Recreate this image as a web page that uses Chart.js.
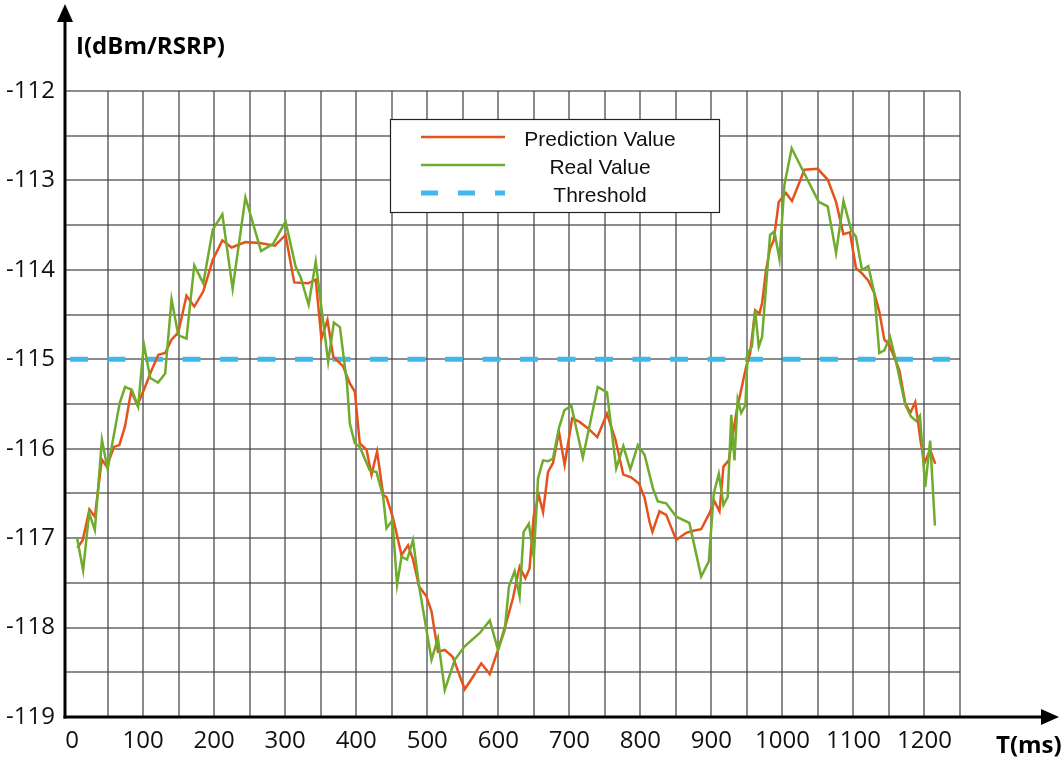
<!DOCTYPE html>
<html><head><meta charset="utf-8">
<script src="https://cdn.jsdelivr.net/npm/chart.js@4/dist/chart.umd.min.js"></script>
<style>html,body{margin:0;padding:0;background:#fff;}#wrap{width:1062px;height:764px;position:relative;}</style>
</head><body><div id="wrap"><canvas id="c" width="1062" height="764"></canvas></div>
<script>
// ---- data ----
const predT = [7.5,15,24.4,32,41.8,48.8,59,66.5,74.5,83,92,102.7,112,121.4,131,140,149.5,161,172,184.7,198,211.5,224.6,244,264.4,285.5,300.5,312.7,332.4,343,351,359.5,367.6,381.6,391,398,405,414.5,421.5,429.4,438,442.6,452,463.7,473,480,488.5,498.8,506,515,524.6,536,552.7,564.4,576,588,599.6,611,620.7,630,638,644,649.7,657,663,670,677,685.4,693.4,704,714.5,726,739.4,753,765,776,787,798,806,813,817,826.9,836.4,850.5,864.6,873,885.6,897.3,904.4,911.4,917,924.5,935.7,949,954.6,961.6,967.6,971.4,977,982.6,987.8,994.8,1005,1013.5,1031,1049.7,1063.7,1075.5,1085.8,1095,1103.6,1112,1121,1129.4,1136.4,1143.5,1150.5,1164.6,1173,1180,1187,1195,1200,1208,1215.2];
const predV = [-117.11,-117.02,-116.68,-116.76,-116.12,-116.20,-115.98,-115.96,-115.75,-115.36,-115.51,-115.31,-115.12,-114.95,-114.93,-114.78,-114.70,-114.29,-114.41,-114.24,-113.89,-113.67,-113.75,-113.69,-113.70,-113.73,-113.61,-114.14,-114.15,-114.11,-114.77,-114.56,-114.97,-115.08,-115.27,-115.36,-115.94,-116.01,-116.29,-116.03,-116.52,-116.54,-116.78,-117.19,-117.08,-117.24,-117.54,-117.65,-117.82,-118.27,-118.25,-118.33,-118.69,-118.55,-118.40,-118.52,-118.25,-117.95,-117.67,-117.32,-117.45,-117.34,-116.76,-116.52,-116.71,-116.26,-116.16,-115.81,-116.18,-115.66,-115.70,-115.77,-115.87,-115.61,-115.90,-116.29,-116.32,-116.39,-116.55,-116.82,-116.93,-116.70,-116.74,-117.02,-116.94,-116.92,-116.90,-116.72,-116.59,-116.70,-116.20,-116.13,-115.57,-115.08,-114.93,-114.45,-114.49,-114.37,-114.00,-113.76,-113.67,-113.24,-113.14,-113.23,-112.88,-112.87,-112.99,-113.24,-113.60,-113.58,-113.98,-114.04,-114.12,-114.26,-114.47,-114.78,-114.84,-115.12,-115.49,-115.60,-115.48,-115.94,-116.16,-116.01,-116.17];
const realT = [7,15.5,24,32,42,50,67,74.5,84,93,101,110,121,131,140,149.5,161,172,184.7,198,211.5,226,244,266,283,300.5,314.6,321.6,333,343,360.5,368.5,377,387,391,398,405,419,428.5,438,442.6,451,457.5,463.7,471.6,480,488.5,506,515,524.6,538.7,552.7,574,588,599.6,609,615,623,630,635.7,643,650,656,663,670,677,685.4,693,702.8,719,740,753,766,776,785.8,796.5,806,817.6,824.6,836.4,850.5,869,885.6,896.4,903.4,910.4,917,923,928,932.5,937,942,948,951,957,961.6,966.7,971.4,982.6,988.7,995.8,1002.8,1013,1051,1063.7,1075.5,1086,1096.6,1103.6,1112,1121,1129.4,1136.4,1143.5,1151.5,1159,1173,1181,1188,1193.6,1201,1208,1214.7];
const realV = [-117.00,-117.36,-116.72,-116.91,-115.90,-116.23,-115.49,-115.31,-115.34,-115.53,-114.83,-115.21,-115.26,-115.16,-114.33,-114.73,-114.77,-113.95,-114.15,-113.55,-113.38,-114.21,-113.19,-113.79,-113.71,-113.46,-113.96,-114.08,-114.39,-113.91,-115.03,-114.59,-114.64,-115.27,-115.72,-115.94,-115.98,-116.24,-116.26,-116.54,-116.89,-116.80,-117.52,-117.21,-117.24,-117.02,-117.54,-118.36,-118.12,-118.70,-118.36,-118.21,-118.06,-117.92,-118.25,-118.03,-117.54,-117.37,-117.65,-116.93,-116.84,-117.21,-116.33,-116.13,-116.14,-116.11,-115.77,-115.57,-115.52,-116.10,-115.31,-115.37,-116.22,-115.97,-116.23,-115.96,-116.07,-116.44,-116.59,-116.61,-116.76,-116.83,-117.43,-117.26,-116.50,-116.28,-116.63,-116.54,-115.62,-116.13,-115.45,-115.60,-115.51,-114.93,-114.86,-114.45,-114.86,-114.75,-113.61,-113.57,-113.88,-113.05,-112.64,-113.24,-113.29,-113.81,-113.23,-113.55,-113.63,-114.00,-113.96,-114.26,-114.93,-114.90,-114.75,-114.99,-115.51,-115.64,-115.69,-115.63,-116.43,-115.91,-116.86];
const thresholdT = [-3, 1236];
const thresholdV = [-115, -115];
const xGrid = [0,50,100,150,200,250,300,350,400,450,500,550,600,650,700,750,800,850,900,950,1000,1050,1100,1150,1200,1250];
const xLabels = [0,100,200,300,400,500,600,700,800,900,1000,1100,1200];
const yGrid = [-119,-118.5,-118,-117.5,-117,-116.5,-116,-115.5,-115,-114.5,-114,-113.5,-113,-112.5,-112];
const yLabels = [-119,-118,-117,-116,-115,-114,-113,-112];
const seriesNames = ['Prediction Value','Real Value','Threshold'];
const yTitle = 'I(dBm/RSRP)';
const xTitle = 'T(ms)';

const pts = (t, v) => t.map((x, i) => ({x: x, y: v[i]}));
const GRID = 'rgba(70,70,70,0.62)';
const FONT = '"Open Sans", "DejaVu Sans", sans-serif';

const deco = {
  id: 'deco',
  afterDraw(chart) {
    const ctx = chart.ctx, ca = chart.chartArea;
    ctx.save();
    // axes with arrows
    ctx.strokeStyle = '#000'; ctx.fillStyle = '#000'; ctx.lineWidth = 3;
    ctx.beginPath(); ctx.moveTo(ca.left, ca.bottom + 1.5); ctx.lineTo(ca.left, 20); ctx.stroke();
    ctx.beginPath(); ctx.moveTo(ca.left - 8, 22); ctx.lineTo(ca.left + 8, 22); ctx.lineTo(ca.left, 4); ctx.closePath(); ctx.fill();
    ctx.beginPath(); ctx.moveTo(ca.left - 1.5, ca.bottom); ctx.lineTo(1043, ca.bottom); ctx.stroke();
    ctx.beginPath(); ctx.moveTo(1041, ca.bottom - 8); ctx.lineTo(1041, ca.bottom + 8); ctx.lineTo(1059, ca.bottom); ctx.closePath(); ctx.fill();
    // titles
    ctx.font = 'bold 24px ' + FONT; ctx.textBaseline = 'middle'; ctx.textAlign = 'left';
    ctx.fillText(yTitle, 76, 47);
    ctx.fillText(xTitle, 996, 746);
    // legend
    const bx = 390, by = 119, bw = 329, bh = 93;
    ctx.fillStyle = '#fff'; ctx.fillRect(bx, by, bw, bh);
    ctx.strokeStyle = '#222'; ctx.lineWidth = 1.2; ctx.strokeRect(bx + 0.5, by + 0.5, bw, bh);
    const rows = [140, 168, 196];
    chart.data.datasets.forEach((ds, i) => {
      const y = rows[i];
      ctx.strokeStyle = ds.borderColor; ctx.lineWidth = ds.borderWidth;
      ctx.setLineDash(ds.legendDash || []);
      ctx.beginPath(); ctx.moveTo(421, y - 3); ctx.lineTo(505, y - 3); ctx.stroke();
      ctx.setLineDash([]);
      ctx.fillStyle = '#111'; ctx.font = '21px "Liberation Sans", Arial, sans-serif';
      ctx.textAlign = 'center'; ctx.textBaseline = 'middle';
      ctx.fillText(ds.label, 600, y);
    });
    ctx.restore();
  }
};

new Chart(document.getElementById('c'), {
  type: 'line',
  data: {
    datasets: [
      {label: seriesNames[0], data: pts(predT, predV), borderColor: '#e4531c', borderWidth: 2.5, pointRadius: 0, tension: 0, order: 2},
      {label: seriesNames[1], data: pts(realT, realV), borderColor: '#6fab2c', borderWidth: 2.5, pointRadius: 0, tension: 0, order: 1},
      {label: seriesNames[2], data: pts(thresholdT, thresholdV), borderColor: '#41b8ea', borderWidth: 5, borderDash: [18, 19.5], legendDash: [17, 20], pointRadius: 0, order: 3}
    ]
  },
  options: {
    responsive: false, animation: false, devicePixelRatio: 1,
    layout: {padding: {top: 91, right: 102, left: 0, bottom: 0}},
    plugins: {legend: {display: false}, tooltip: {enabled: false}},
    scales: {
      x: {
        type: 'linear', min: -10, max: 1250,
        afterBuildTicks: s => { s.ticks = xGrid.map(v => ({value: v})); },
        afterFit: s => { s.height = 47; },
        grid: {color: c => (c.tick && c.tick.value === 0) ? 'rgba(0,0,0,0)' : GRID, lineWidth: 2, drawTicks: false},
        border: {display: false},
        ticks: {autoSkip: false, maxRotation: 0, padding: 10, color: '#111', font: {family: FONT, size: 24},
          callback: v => xLabels.includes(v) ? String(v) : ''}
      },
      y: {
        type: 'linear', min: -119, max: -112,
        afterBuildTicks: s => { s.ticks = yGrid.map(v => ({value: v})); },
        afterFit: s => { s.width = 65; },
        grid: {color: GRID, lineWidth: 2, drawTicks: false},
        border: {display: false},
        ticks: {autoSkip: false, padding: 10, color: '#111', font: {family: FONT, size: 24},
          callback: v => yLabels.includes(v) ? String(v) : ''}
      }
    }
  },
  plugins: [deco]
});
</script></body></html>
